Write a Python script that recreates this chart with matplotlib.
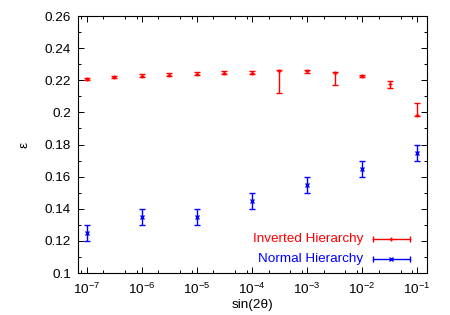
import matplotlib
matplotlib.use('Agg')
import matplotlib.pyplot as plt
from matplotlib.ticker import LogLocator, FixedLocator
import numpy as np

plt.rcParams['font.family'] = ['Liberation Sans', 'DejaVu Sans']
plt.rcParams['mathtext.fontset'] = 'custom'
plt.rcParams['mathtext.rm'] = 'Liberation Sans'
plt.rcParams['mathtext.default'] = 'regular'

# Inverted hierarchy: half-decade steps 1e-7 .. 1e-1
ih_exp = [-7, -6.5, -6, -5.5, -5, -4.5, -4, -3.5, -3, -2.5, -2, -1.5, -1]
ih_y = [0.2208, 0.2220, 0.2229, 0.2235, 0.2241, 0.2247, 0.2248, 0.2256, 0.2256, 0.2245, 0.2227, 0.2175, 0.1981]
ih_lo = [0.0008, 0.0008, 0.0008, 0.0008, 0.0008, 0.0010, 0.0012, 0.0135, 0.0010, 0.0074, 0.0007, 0.0024, 0.0004]
ih_hi = [0.0008, 0.0008, 0.0008, 0.0008, 0.0008, 0.0010, 0.0012, 0.0010, 0.0010, 0.0007, 0.0007, 0.0019, 0.0080]

# Normal hierarchy: decade steps
nh_exp = [-7, -6, -5, -4, -3, -2, -1]
nh_y = [0.125, 0.135, 0.135, 0.145, 0.155, 0.165, 0.175]
nh_err = [0.005, 0.005, 0.005, 0.005, 0.005, 0.005, 0.005]

y_ticks = [0.1, 0.12, 0.14, 0.16, 0.18, 0.2, 0.22, 0.24, 0.26]
y_labels = ['0.1', '0.12', '0.14', '0.16', '0.18', '0.2', '0.22', '0.24', '0.26']
x_tick_exp = [-7, -6, -5, -4, -3, -2, -1]

red = '#ff0000'
blue = '#0000ff'
fs = 9.7

fig = plt.figure(figsize=(4.5, 3.15), dpi=100)
ax = fig.add_axes([0.1733, 0.1333, 0.7756, 0.8159])

ih_x = 10.0 ** np.array(ih_exp)
nh_x = 10.0 ** np.array(nh_exp)

ax.errorbar(ih_x, ih_y, yerr=[ih_lo, ih_hi], fmt='+', color=red, ms=3,
            mew=1, elinewidth=1, capsize=2, capthick=1, zorder=3)
ax.errorbar(nh_x, nh_y, yerr=nh_err, fmt='x', color=blue, ms=3,
            mew=1, elinewidth=1, capsize=2, capthick=1, zorder=3)

ax.set_xscale('log')
ax.set_xlim(10 ** -7.16, 10 ** -0.82)
ax.set_ylim(0.1, 0.26)

ax.xaxis.set_major_locator(FixedLocator([10.0 ** e for e in x_tick_exp]))
ax.xaxis.set_minor_locator(LogLocator(base=10, subs=[2, 5, 8], numticks=20))
ax.xaxis.set_minor_formatter(plt.NullFormatter())
ax.set_xticklabels([r'$10^{%d}$' % e for e in x_tick_exp])
ax.yaxis.set_major_locator(FixedLocator(y_ticks))
ax.yaxis.set_minor_locator(FixedLocator(np.arange(0.11, 0.26, 0.02)))
ax.set_yticklabels(y_labels)

ax.tick_params(which='both', direction='in', top=True, right=True, labelsize=fs, width=0.7)
ax.tick_params(which='major', length=4, pad=5)
ax.tick_params(axis='x', which='major', pad=6)
ax.tick_params(which='minor', length=2)
for s in ax.spines.values():
    s.set_linewidth(0.8)

ax.set_xlabel('sin(2θ)', fontsize=fs, labelpad=2)
ax.set_ylabel('ε', fontsize=fs, rotation=90, labelpad=10)

# gnuplot-style key
key_rows = [('Inverted Hierarchy', red, '+', 0.132), ('Normal Hierarchy', blue, 'x', 0.054)]
for label, col, mk, yk in key_rows:
    ax.text(0.817, yk, label, color=col, fontsize=fs, ha='right', va='center',
            transform=ax.transAxes)
    ax.plot([0.844, 0.951], [yk, yk], color=col, lw=1, transform=ax.transAxes)
    ax.plot([0.844, 0.951], [yk, yk], ls='none', marker='|', ms=4, mew=1, color=col,
            transform=ax.transAxes)
    ax.plot([0.8975], [yk], ls='none', marker=mk, ms=3, mew=1, color=col,
            transform=ax.transAxes)

fig.savefig('out.png', dpi=100)
